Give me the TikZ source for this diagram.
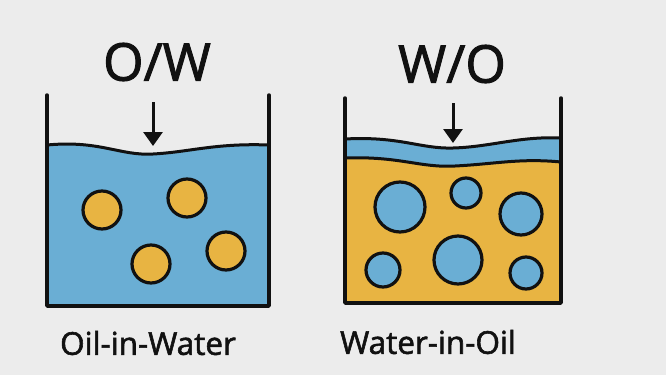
\documentclass[tikz,border=0pt]{standalone}
\usepackage{fontspec}
\setmainfont{Open Sans}
\newfontfamily\heavyfont{Open Sans}[FakeBold=1.8]
\usetikzlibrary{arrows.meta}
\definecolor{bg}{HTML}{ECECEC}
\definecolor{water}{HTML}{6AAED4}
\definecolor{oil}{HTML}{E8B442}
\definecolor{ink}{HTML}{111111}
\tikzset{
  wall/.style={draw=ink, line width=3.5pt, line cap=round, line join=round},
  surf/.style={draw=ink, line width=3pt},
  drop/.style={circle, draw=ink, line width=3.2pt, inner sep=0pt},
  title/.style={font=\heavyfont\fontsize{52}{52}\selectfont, text=ink},
  caption/.style={font=\heavyfont\fontsize{31.5}{31.5}\selectfont, text=ink},
  pointer/.style={draw=ink, line width=3pt, -{Triangle[length=14pt,width=19pt]}}
}
\begin{document}
\begin{tikzpicture}[x=1pt,y=-1pt]
\fill[bg] (0,0) rectangle (666,375);
\useasboundingbox (0,0) rectangle (666,375);
% ---------- left beaker (O/W)
\fill[water] (47,145) .. controls (100,140) and (120,156) .. (153,154)
  .. controls (190,152) and (215,143) .. (269,145) -- (269,306) -- (47,306) -- cycle;
\draw[surf] (47,145) .. controls (100,140) and (120,156) .. (153,154)
  .. controls (190,152) and (215,143) .. (269,145);
\node[drop, fill=oil, minimum size=38pt] (l1) at (102,210) {};
\node[drop, fill=oil, minimum size=38pt] (l2) at (187,198) {};
\node[drop, fill=oil, minimum size=38pt] (l3) at (151,264) {};
\node[drop, fill=oil, minimum size=38pt] (l4) at (226,251) {};
\draw[wall] (47,95) -- (47,306) -- (269,306) -- (269,95);
\node[title] (ow) at (157,62) {O/W};
\coordinate (lt) at (153,102);
\coordinate (lb) at (153,146);
\draw[pointer] (lt) -- (lb);
\node[caption] (owl) at (148,343) {Oil-in-Water};
% ---------- right beaker (W/O)
\fill[oil] (345,158) .. controls (400,156) and (420,168) .. (455,166)
  .. controls (495,164) and (520,158) .. (561,162) -- (561,303) -- (345,303) -- cycle;
\fill[water] (345,139) .. controls (400,136) and (420,149) .. (453,148)
  .. controls (490,147) and (520,136) .. (561,138)
  -- (561,162) .. controls (520,158) and (495,164) .. (455,166)
  .. controls (420,168) and (400,156) .. (345,158) -- cycle;
\draw[surf] (345,139) .. controls (400,136) and (420,149) .. (453,148)
  .. controls (490,147) and (520,136) .. (561,138);
\draw[surf] (345,158) .. controls (400,156) and (420,168) .. (455,166)
  .. controls (495,164) and (520,158) .. (561,162);
\node[drop, fill=water, minimum size=50pt] (r1) at (400,207) {};
\node[drop, fill=water, minimum size=30pt] (r2) at (466,193) {};
\node[drop, fill=water, minimum size=42pt] (r3) at (521,214) {};
\node[drop, fill=water, minimum size=34pt] (r4) at (383,270) {};
\node[drop, fill=water, minimum size=48pt] (r5) at (458,260) {};
\node[drop, fill=water, minimum size=32pt] (r6) at (526,273) {};
\draw[wall] (345,98) -- (345,303) -- (561,303) -- (561,98);
\node[title] (wo) at (452,64) {W/O};
\coordinate (rt) at (453,103);
\coordinate (rb) at (453,143);
\draw[pointer] (rt) -- (rb);
\node[caption] (wol) at (428,342) {Water-in-Oil};
\end{tikzpicture}
\end{document}
